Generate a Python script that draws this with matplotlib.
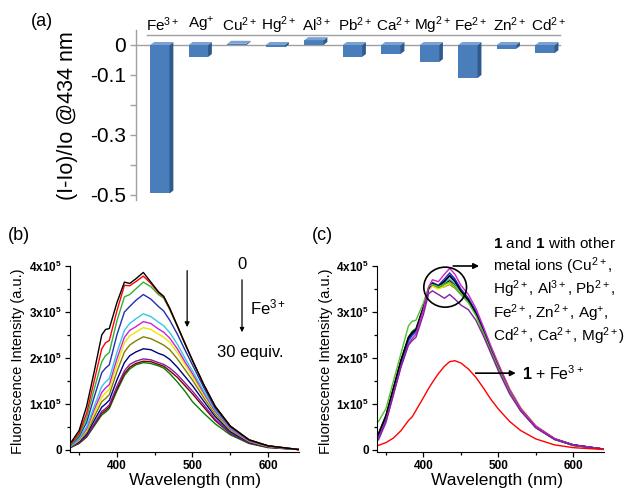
import numpy as np
import matplotlib
matplotlib.use('Agg')
import matplotlib.pyplot as plt
from matplotlib.patches import Polygon, Ellipse
from matplotlib.ticker import FixedLocator

plt.rcParams['font.family'] = ['Liberation Sans', 'DejaVu Sans']
plt.rcParams['mathtext.fontset'] = 'custom'
plt.rcParams['mathtext.rm'] = 'Liberation Sans'
plt.rcParams['mathtext.bf'] = 'Liberation Sans:bold'
plt.rcParams['mathtext.it'] = 'Liberation Sans:italic'
plt.rcParams['mathtext.default'] = 'regular'
plt.rcParams['axes.unicode_minus'] = False

# ---------------- data ----------------
# (a) relative change of emission at 434 nm
ions = ['Fe$^{3+}$', 'Ag$^{+}$', 'Cu$^{2+}$', 'Hg$^{2+}$', 'Al$^{3+}$', 'Pb$^{2+}$',
        'Ca$^{2+}$', 'Mg$^{2+}$', 'Fe$^{2+}$', 'Zn$^{2+}$', 'Cd$^{2+}$']
response = [-0.495, -0.04, 0.004, -0.008, 0.016, -0.04, -0.03, -0.057, -0.11, -0.013, -0.027]
a_yticks = [0, -0.1, -0.2, -0.3, -0.4, -0.5]
a_yticklabels = ['0', '-0.1', '', '-0.3', '', '-0.5']

# (b) titration with Fe3+ (intensity in units of 1e5)
wl_b = [340, 350, 360, 370, 380, 385, 390, 400, 410, 417, 425, 435, 445, 455, 462,
        470, 480, 490, 500, 515, 530, 550, 575, 600, 640]
b_black  = [0.18, 0.42, 0.95, 1.70, 2.50, 2.62, 2.64, 3.20, 3.65, 3.62, 3.72, 3.86, 3.65, 3.44, 3.34, 3.08, 2.70, 2.32, 1.95, 1.42, 0.95, 0.52, 0.22, 0.09, 0.01]
b_red    = [0.15, 0.36, 0.80, 1.50, 2.20, 2.33, 2.38, 3.02, 3.58, 3.57, 3.66, 3.78, 3.62, 3.42, 3.33, 3.07, 2.70, 2.32, 1.95, 1.42, 0.95, 0.52, 0.22, 0.09, 0.01]
b_green  = [0.13, 0.32, 0.70, 1.32, 1.92, 2.05, 2.12, 2.80, 3.33, 3.38, 3.50, 3.65, 3.55, 3.38, 3.30, 3.05, 2.69, 2.31, 1.94, 1.42, 0.95, 0.52, 0.22, 0.09, 0.01]
b_blue   = [0.12, 0.29, 0.60, 1.15, 1.68, 1.78, 1.85, 2.50, 3.00, 3.12, 3.25, 3.38, 3.28, 3.12, 3.02, 2.82, 2.52, 2.18, 1.85, 1.36, 0.91, 0.50, 0.21, 0.09, 0.01]
b_cyan   = [0.10, 0.25, 0.50, 0.95, 1.38, 1.48, 1.55, 2.12, 2.60, 2.75, 2.85, 2.96, 2.90, 2.78, 2.70, 2.55, 2.30, 2.00, 1.72, 1.28, 0.87, 0.48, 0.20, 0.08, 0.01]
b_mag    = [0.10, 0.23, 0.46, 0.88, 1.25, 1.35, 1.42, 1.98, 2.45, 2.60, 2.68, 2.79, 2.75, 2.63, 2.56, 2.43, 2.20, 1.92, 1.66, 1.24, 0.84, 0.46, 0.19, 0.08, 0.01]
b_yellow = [0.09, 0.21, 0.42, 0.80, 1.15, 1.24, 1.32, 1.85, 2.33, 2.48, 2.56, 2.66, 2.62, 2.52, 2.45, 2.34, 2.12, 1.86, 1.60, 1.20, 0.82, 0.45, 0.19, 0.08, 0.01]
b_olive  = [0.09, 0.20, 0.38, 0.72, 1.05, 1.12, 1.20, 1.70, 2.13, 2.28, 2.37, 2.46, 2.42, 2.34, 2.28, 2.18, 1.98, 1.75, 1.52, 1.14, 0.78, 0.43, 0.18, 0.07, 0.01]
b_navy   = [0.08, 0.18, 0.34, 0.64, 0.93, 1.00, 1.08, 1.52, 1.90, 2.05, 2.13, 2.20, 2.18, 2.10, 2.06, 1.97, 1.80, 1.60, 1.40, 1.06, 0.73, 0.40, 0.17, 0.07, 0.01]
b_purple = [0.07, 0.16, 0.30, 0.57, 0.84, 0.90, 0.98, 1.38, 1.72, 1.86, 1.93, 1.98, 1.96, 1.90, 1.86, 1.78, 1.64, 1.46, 1.28, 0.98, 0.67, 0.37, 0.16, 0.06, 0.01]
b_wine   = [0.07, 0.15, 0.29, 0.55, 0.80, 0.86, 0.94, 1.32, 1.66, 1.80, 1.88, 1.93, 1.92, 1.86, 1.82, 1.72, 1.58, 1.40, 1.22, 0.93, 0.64, 0.36, 0.15, 0.06, 0.01]
b_dgreen = [0.06, 0.14, 0.28, 0.52, 0.76, 0.82, 0.90, 1.28, 1.62, 1.76, 1.85, 1.90, 1.88, 1.83, 1.78, 1.66, 1.48, 1.28, 1.05, 0.80, 0.57, 0.33, 0.14, 0.05, 0.01]

# (c) selectivity (intensity in units of 1e5)
wl_c = [340, 350, 360, 370, 380, 385, 390, 400, 407, 412, 420, 428, 435, 442, 450,
        460, 470, 480, 490, 500, 515, 530, 550, 575, 600, 640]
c_black  = [0.35, 0.75, 1.35, 1.95, 2.45, 2.55, 2.62, 3.10, 3.52, 3.62, 3.56, 3.66, 3.78, 3.66, 3.45, 3.25, 2.97, 2.58, 2.18, 1.80, 1.27, 0.87, 0.50, 0.24, 0.11, 0.02]
c_green  = [0.62, 0.90, 1.50, 2.10, 2.70, 2.80, 2.82, 3.20, 3.55, 3.60, 3.55, 3.60, 3.65, 3.55, 3.38, 3.20, 2.92, 2.55, 2.15, 1.78, 1.26, 0.86, 0.49, 0.23, 0.10, 0.02]
c_blue   = [0.28, 0.68, 1.28, 1.88, 2.38, 2.50, 2.58, 3.08, 3.52, 3.64, 3.58, 3.72, 3.85, 3.72, 3.50, 3.30, 3.02, 2.63, 2.22, 1.84, 1.30, 0.89, 0.51, 0.24, 0.11, 0.02]
c_cyan   = [0.26, 0.66, 1.25, 1.85, 2.35, 2.48, 2.56, 3.05, 3.50, 3.60, 3.55, 3.64, 3.72, 3.62, 3.44, 3.26, 2.99, 2.61, 2.21, 1.83, 1.30, 0.89, 0.51, 0.24, 0.11, 0.02]
c_mag    = [0.25, 0.64, 1.22, 1.82, 2.30, 2.42, 2.52, 3.05, 3.55, 3.70, 3.66, 3.82, 3.95, 3.82, 3.58, 3.38, 3.08, 2.68, 2.26, 1.87, 1.32, 0.90, 0.52, 0.25, 0.11, 0.02]
c_yellow = [0.30, 0.70, 1.30, 1.90, 2.40, 2.52, 2.60, 3.08, 3.48, 3.56, 3.50, 3.56, 3.62, 3.55, 3.42, 3.26, 3.00, 2.64, 2.25, 1.88, 1.34, 0.92, 0.53, 0.25, 0.11, 0.02]
c_olive  = [0.30, 0.70, 1.30, 1.90, 2.40, 2.52, 2.60, 3.08, 3.48, 3.57, 3.52, 3.55, 3.60, 3.52, 3.38, 3.22, 2.96, 2.60, 2.20, 1.82, 1.29, 0.88, 0.51, 0.24, 0.11, 0.02]
c_navy   = [0.32, 0.72, 1.32, 1.92, 2.42, 2.53, 2.60, 3.10, 3.52, 3.63, 3.57, 3.68, 3.80, 3.68, 3.47, 3.27, 2.99, 2.60, 2.20, 1.82, 1.28, 0.88, 0.50, 0.24, 0.11, 0.02]
c_purple = [0.22, 0.60, 1.20, 1.80, 2.28, 2.38, 2.45, 2.95, 3.40, 3.46, 3.38, 3.30, 3.38, 3.28, 3.15, 3.05, 2.82, 2.48, 2.10, 1.72, 1.22, 0.84, 0.48, 0.23, 0.10, 0.02]
c_wine   = [0.33, 0.73, 1.33, 1.93, 2.43, 2.54, 2.61, 3.10, 3.52, 3.60, 3.54, 3.62, 3.68, 3.60, 3.43, 3.24, 2.96, 2.57, 2.17, 1.79, 1.26, 0.86, 0.49, 0.23, 0.10, 0.02]
c_dgreen = [0.36, 0.76, 1.36, 1.96, 2.46, 2.58, 2.64, 3.12, 3.50, 3.58, 3.52, 3.60, 3.70, 3.60, 3.44, 3.24, 2.96, 2.56, 2.16, 1.78, 1.25, 0.86, 0.49, 0.23, 0.10, 0.02]
c_fe3    = [0.10, 0.16, 0.26, 0.42, 0.64, 0.72, 0.86, 1.14, 1.34, 1.47, 1.66, 1.82, 1.92, 1.94, 1.89, 1.76, 1.58, 1.35, 1.10, 0.89, 0.62, 0.42, 0.24, 0.11, 0.05, 0.01]

spec_ticks = [0, 1, 2, 3, 4]
spec_ticklabels = ['0', r'$\mathbf{1x10^5}$', r'$\mathbf{2x10^5}$', r'$\mathbf{3x10^5}$', r'$\mathbf{4x10^5}$']

# ---------------- figure ----------------
W, H = 627, 490
fig = plt.figure(figsize=(W / 100, H / 100), dpi=100)


def rect(l, t, r, b):
    return [l / W, 1 - b / H, (r - l) / W, (b - t) / H]


def fx(px):
    return px / W


def fy(py):
    return 1 - py / H


# ---------- panel (a) ----------
axa = fig.add_axes(rect(136, 30, 565, 200))
axa.set_xlim(-0.62, 10.52)
axa.set_ylim(-0.5167, 0.05)
for s in ['top', 'right', 'bottom']:
    axa.spines[s].set_visible(False)
axa.spines['left'].set_color('#a0a0a0')
axa.spines['left'].set_linewidth(1.0)
axa.set_xticks([])
axa.set_yticks(a_yticks)
axa.set_yticklabels(a_yticklabels, fontsize=15)
axa.tick_params(axis='y', direction='out', length=4, width=1, color='#a0a0a0', pad=3)

xa = np.arange(len(ions))
axa.plot([-0.34, 10.39], [0.033, 0.033], color='#a0a0a0', lw=1.0, zorder=1)
axa.plot([-0.62, 10.39], [0, 0], color='#a0a0a0', lw=1.0, zorder=1, clip_on=False)
bars = axa.bar(xa, response, width=0.5, color='#4a7ebb', linewidth=0, zorder=3)
dx, dy = 0.1, 0.010
for b in bars:
    x0, w = b.get_x(), b.get_width()
    y0, h = b.get_y(), b.get_height()
    top, bot = max(y0, y0 + h), min(y0, y0 + h)
    axa.add_patch(Polygon([(x0 + w, top), (x0 + w + dx, top + dy), (x0 + w + dx, bot + dy), (x0 + w, bot)],
                          closed=True, facecolor='#2f5a8e', edgecolor='none', zorder=3))
    axa.add_patch(Polygon([(x0, top), (x0 + w, top), (x0 + w + dx, top + dy), (x0 + dx, top + dy)],
                          closed=True, facecolor='#7aa0d4', edgecolor='none', zorder=3))
for i, lab in enumerate(ions):
    axa.text(i + 0.08, 1.03, lab, transform=axa.get_xaxis_transform(), ha='center', va='center',
             fontsize=11)
fig.text(fx(67), fy(116), '(I-Io)/Io @434 nm', rotation=90, ha='center', va='center', fontsize=15.5)
fig.text(fx(42), fy(22), '(a)', ha='center', va='center', fontsize=13)


def style_spec(ax):
    ax.set_xlim(338, 641)
    ax.set_ylim(-0.04, 4.0)
    ax.spines['top'].set_visible(False)
    ax.spines['right'].set_visible(False)
    ax.xaxis.set_major_locator(FixedLocator([400, 500, 600]))
    ax.xaxis.set_minor_locator(FixedLocator([350, 450, 550]))
    ax.yaxis.set_major_locator(FixedLocator(spec_ticks))
    ax.yaxis.set_minor_locator(FixedLocator([0.5, 1.5, 2.5, 3.5]))
    ax.set_yticklabels(spec_ticklabels)
    ax.tick_params(which='both', direction='out', width=0.9)
    ax.tick_params(which='major', length=3.5, labelsize=8.5, pad=2.5)
    ax.tick_params(which='minor', length=2.5)
    for lab in ax.get_xticklabels() + ax.get_yticklabels():
        lab.set_fontweight('bold')


# ---------- panel (b) ----------
axb = fig.add_axes(rect(70, 266, 299, 451.8))
style_spec(axb)
b_series = [b_dgreen, b_wine, b_purple, b_navy, b_olive, b_yellow, b_mag, b_cyan, b_blue, b_green, b_red, b_black]
b_colors = ['#008000', '#800000', '#8020a0', '#000080', '#808000', '#e8e800', '#d020d0', '#30c8e8', '#2030b0', '#30b030', '#ff0000', '#000000']
for ys, col in zip(b_series, b_colors):
    axb.plot(wl_b, ys, color=col, lw=1.0)
axb.annotate('', xy=(493, 2.61), xytext=(493, 3.96),
             arrowprops=dict(arrowstyle='-|>', color='k', lw=0.9, mutation_scale=7))
axb.annotate('', xy=(565.6, 2.50), xytext=(565.6, 3.76),
             arrowprops=dict(arrowstyle='-|>', color='k', lw=0.9, mutation_scale=6))
axb.text(565.6, 4.04, '0', ha='center', va='center', fontsize=12)
axb.text(576, 3.09, 'Fe$^{3+}$', ha='left', va='center', fontsize=12)
axb.text(576, 2.13, '30 equiv.', ha='center', va='center', fontsize=12)
fig.text(fx(18), fy(361), 'Fluorescence Intensity (a.u.)', rotation=90, ha='center', va='center', fontsize=10.5)
fig.text(fx(195), fy(480), 'Wavelength (nm)', ha='center', va='center', fontsize=12.5)
fig.text(fx(19), fy(235), '(b)', ha='center', va='center', fontsize=13)

# ---------- panel (c) ----------
axc = fig.add_axes(rect(377, 266, 604, 451.8))
style_spec(axc)
c_series = [c_dgreen, c_wine, c_olive, c_yellow, c_cyan, c_navy, c_blue, c_black, c_green, c_mag, c_purple]
c_colors = ['#008000', '#800000', '#808000', '#e8e800', '#30c8e8', '#000080', '#2030b0', '#000000', '#50c030', '#d020d0', '#8020a0']
for ys, col in zip(c_series, c_colors):
    axc.plot(wl_c, ys, color=col, lw=1.0)
axc.plot(wl_c, c_fe3, color='#ff0000', lw=1.0)
axc.add_patch(Ellipse((429, 3.54), 57, 0.87, fill=False, edgecolor='k', lw=1.2, clip_on=False, zorder=5))
axc.annotate('', xy=(478, 4.0), xytext=(436, 4.0), annotation_clip=False,
             arrowprops=dict(arrowstyle='-|>', color='k', lw=1.2, mutation_scale=8))
axc.annotate('', xy=(527, 1.67), xytext=(466, 1.67), annotation_clip=False,
             arrowprops=dict(arrowstyle='-|>', color='k', lw=1.2, mutation_scale=8))
axc.text(531, 1.67, r'$\mathbf{1}$ + Fe$^{3+}$', ha='left', va='center', fontsize=11.5)
info_lines = [r'$\mathbf{1}$ and $\mathbf{1}$ with other',
              'metal ions (Cu$^{2+}$,',
              'Hg$^{2+}$, Al$^{3+}$, Pb$^{2+}$,',
              'Fe$^{2+}$, Zn$^{2+}$, Ag$^{+}$,',
              'Cd$^{2+}$, Ca$^{2+}$, Mg$^{2+}$)']
for k, line in enumerate(info_lines):
    fig.text(fx(493), fy(243 + 23.3 * k), line, ha='left', va='center', fontsize=11)
fig.text(fx(326), fy(361), 'Fluorescence Intensity (a.u.)', rotation=90, ha='center', va='center', fontsize=10.5)
fig.text(fx(497), fy(480), 'Wavelength (nm)', ha='center', va='center', fontsize=12.5)
fig.text(fx(322), fy(235), '(c)', ha='center', va='center', fontsize=13)

fig.savefig('out.png', dpi=100)
